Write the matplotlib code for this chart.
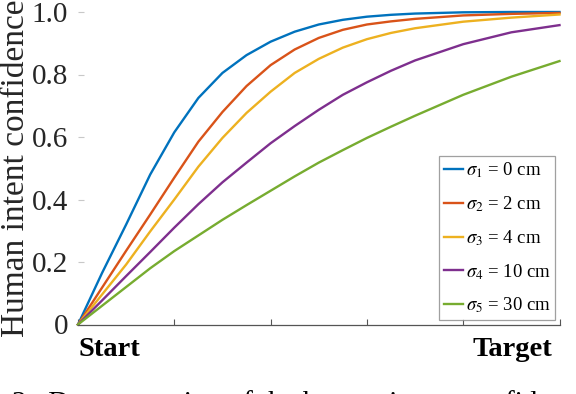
import matplotlib as mpl
mpl.use("Agg")
import matplotlib.pyplot as plt
import matplotlib.transforms as mtransforms

mpl.rcParams.update({
    "font.family": "serif",
    "font.serif": ["Liberation Serif", "DejaVu Serif"],
    "mathtext.fontset": "stix",
})

# ── Data ──
progress = [0, 0.05, 0.1, 0.15, 0.2, 0.25, 0.3, 0.35, 0.4, 0.45, 0.5,
            0.55, 0.6, 0.65, 0.7, 0.8, 0.9, 1.0]
conf_s1 = [0, 0.165, 0.32, 0.48, 0.615, 0.725, 0.805, 0.862, 0.905, 0.937, 0.96,
           0.975, 0.985, 0.991, 0.995, 0.999, 1.0, 1.0]
conf_s2 = [0, 0.118, 0.236, 0.352, 0.47, 0.585, 0.68, 0.763, 0.83, 0.88, 0.917,
           0.943, 0.96, 0.97, 0.978, 0.989, 0.994, 0.997]
conf_s3 = [0, 0.096, 0.192, 0.298, 0.40, 0.505, 0.597, 0.677, 0.745, 0.805, 0.85,
           0.886, 0.913, 0.933, 0.948, 0.969, 0.982, 0.992]
conf_s4 = [0, 0.077, 0.155, 0.232, 0.31, 0.385, 0.455, 0.518, 0.58, 0.635, 0.687,
           0.735, 0.775, 0.812, 0.845, 0.897, 0.935, 0.958]
conf_s5 = [0, 0.06, 0.12, 0.18, 0.235, 0.285, 0.335, 0.382, 0.428, 0.474, 0.518,
           0.558, 0.597, 0.633, 0.668, 0.735, 0.793, 0.843]

series = [conf_s1, conf_s2, conf_s3, conf_s4, conf_s5]
labels = [r"$\sigma_1$ = 0 cm", r"$\sigma_2$ = 2 cm", r"$\sigma_3$ = 4 cm",
          r"$\sigma_4$ = 10 cm", r"$\sigma_5$ = 30 cm"]
colors = ["#0072BD", "#D95319", "#EDB120", "#7E2F8E", "#77AC30"]

W, H = 576, 394
fig = plt.figure(figsize=(W / 100, H / 100), dpi=100)
ax = fig.add_axes([78 / W, 1 - 324.5 / H, (559.5 - 78) / W, (324.5 - 12) / H])

for y, c, lab in zip(series, colors, labels):
    ax.plot(progress, y, color=c, lw=1.7, label=lab, clip_on=False,
            solid_joinstyle="round")

ax.set_xlim(0, 1)
ax.set_ylim(0, 1)
ax.set_xticks([0, 0.2, 0.4, 0.6, 0.8, 1.0])
ax.set_xticklabels([])
ax.set_yticks([0, 0.2, 0.4, 0.6, 0.8, 1.0])
ax.set_yticklabels(["0", "0.2", "0.4", "0.6", "0.8", "1.0"], fontsize=21)
ax.tick_params(axis="y", direction="in", length=4, color="#c8c8c8", pad=7,
               labelcolor="#262626")
ax.tick_params(axis="x", direction="in", length=4, color="#555555")

for s in ["top", "right", "left"]:
    ax.spines[s].set_visible(False)
ax.spines["bottom"].set_color("#555555")
ax.spines["bottom"].set_linewidth(0.9)

# Start / Target endpoint labels
trans = mtransforms.blended_transform_factory(ax.transData, ax.transAxes)
ax.text(0, -0.04, "Start", transform=trans, ha="left", va="top",
        fontsize=20.5, fontweight="bold")
ax.text(0.984, -0.04, "Target", transform=trans, ha="right", va="top",
        fontsize=20.5, fontweight="bold")

fig.text(1 / W, 1 - 168 / H, "Human intent confidence", rotation=90,
         ha="left", va="center", fontsize=24, color="#262626")

leg = ax.legend(loc="lower right", bbox_to_anchor=(0.991, 0.014),
                fontsize=13.5, frameon=True, fancybox=False,
                handlelength=1.0, handletextpad=0.15, labelspacing=0.75,
                borderpad=0.25, borderaxespad=0)
leg.get_frame().set_edgecolor("#888888")
leg.get_frame().set_linewidth(0.9)

# caption (cut off at the bottom edge, as in the reference)
fig.text(12 / W, 1 - 391 / H, "2.  Demonstration of the human intent confidence model",
         ha="left", va="top", fontsize=21)

fig.savefig("out.png", dpi=100)
